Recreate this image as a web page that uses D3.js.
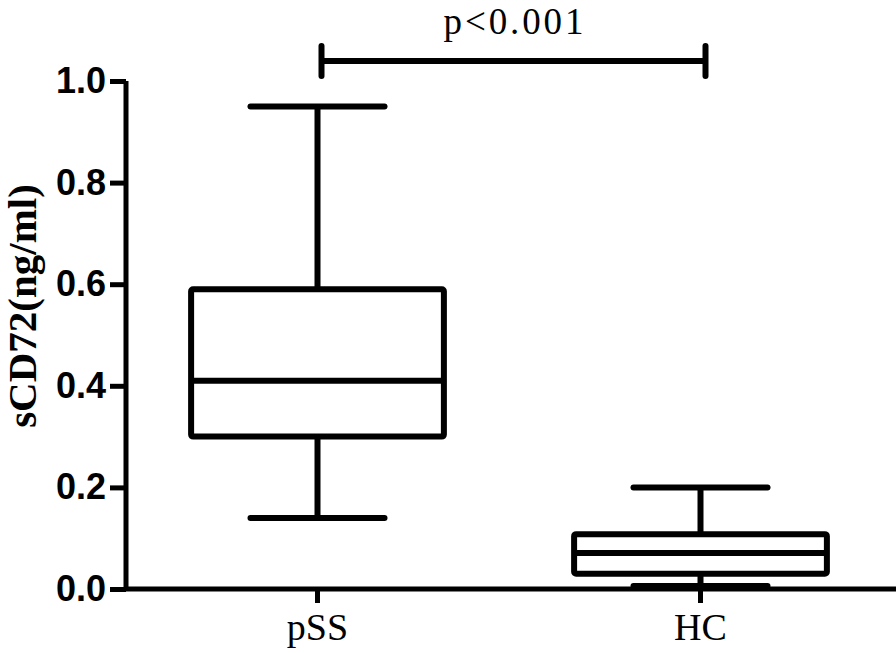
<!DOCTYPE html>
<html>
<head>
<meta charset="utf-8">
<script src="https://d3js.org/d3.v7.min.js"></script>
<style>
  html, body { margin: 0; padding: 0; background: #fff; }
  svg { display: block; }
</style>
</head>
<body>
<svg id="chart" width="896" height="653"></svg>
<script>
// groups and five-number summaries (ng/ml)
const groups = ["pSS", "HC"];
const whiskerLow = [0.14, 0.006];
const q1 = [0.30, 0.03];
const median = [0.41, 0.071];
const q3 = [0.59, 0.108];
const whiskerHigh = [0.95, 0.20];
const yTicks = [0.0, 0.2, 0.4, 0.6, 0.8, 1.0];
const pLabel = "p<0.001";

const svg = d3.select("#chart");
const plotLeft = 126, plotRight = 892, plotTop = 81, plotBottom = 589;

const x = d3.scaleBand().domain(groups).range([plotLeft, plotRight]).padding(0);
const y = d3.scaleLinear().domain([0, 1]).range([plotBottom, plotTop]);

const boxW = x.bandwidth() * 0.66;
const capW = x.bandwidth() * 0.35;
const lw = 6;

// y axis
const yAxis = svg.append("g")
  .attr("transform", `translate(${plotLeft},0)`)
  .call(d3.axisLeft(y).tickValues(yTicks).tickFormat(d3.format(".1f")).tickSize(16).tickPadding(4));
yAxis.select(".domain").attr("d", `M0,${plotTop}V${plotBottom}`).attr("stroke-width", 5);
yAxis.selectAll(".tick line").attr("stroke-width", 5);
yAxis.selectAll(".tick text")
  .style("font-family", "'Liberation Sans', Arial, sans-serif")
  .style("font-weight", "bold")
  .style("font-size", "36px")
  .attr("fill", "#000");

// x axis
const xAxis = svg.append("g")
  .attr("transform", `translate(0,${plotBottom})`)
  .call(d3.axisBottom(x).tickSize(14).tickPadding(10));
xAxis.select(".domain").attr("d", `M${plotLeft - 2},0H896`).attr("stroke-width", 5);
xAxis.selectAll(".tick line").attr("stroke-width", 5);
xAxis.selectAll(".tick text")
  .style("font-family", "'Liberation Serif', 'Times New Roman', serif")
  .style("font-size", "38px")
  .attr("fill", "#000");

// y title
svg.append("text")
  .attr("transform", `translate(36,306) rotate(-90)`)
  .attr("text-anchor", "middle")
  .style("font-family", "'Liberation Serif', 'Times New Roman', serif")
  .style("font-weight", "bold")
  .style("font-size", "41px")
  .text("sCD72(ng/ml)");

// boxes
const data = groups.map((g, i) => ({
  g, lo: whiskerLow[i], q1: q1[i], med: median[i], q3: q3[i], hi: whiskerHigh[i]
}));

const box = svg.append("g").selectAll("g").data(data).join("g")
  .attr("stroke", "#000").attr("stroke-width", lw).attr("fill", "none")
  .attr("stroke-linecap", "round");

box.each(function (d) {
  const g = d3.select(this);
  const cx = x(d.g) + x.bandwidth() / 2;
  // whiskers
  g.append("line").attr("x1", cx).attr("x2", cx).attr("y1", y(d.hi)).attr("y2", y(d.q3)).attr("stroke-linecap", "butt");
  g.append("line").attr("x1", cx).attr("x2", cx).attr("y1", y(d.q1)).attr("y2", y(d.lo)).attr("stroke-linecap", "butt");
  g.append("line").attr("x1", cx - capW / 2).attr("x2", cx + capW / 2).attr("y1", y(d.hi)).attr("y2", y(d.hi));
  g.append("line").attr("x1", cx - capW / 2).attr("x2", cx + capW / 2).attr("y1", y(d.lo)).attr("y2", y(d.lo));
  // box
  g.append("rect")
    .attr("x", cx - boxW / 2).attr("width", boxW)
    .attr("y", y(d.q3)).attr("height", y(d.q1) - y(d.q3))
    .attr("rx", 2).attr("stroke-linejoin", "round");
  g.append("line").attr("x1", cx - boxW / 2).attr("x2", cx + boxW / 2)
    .attr("y1", y(d.med)).attr("y2", y(d.med)).attr("stroke-linecap", "butt");
});

// significance bracket
const x1 = x("pSS") + x.bandwidth() / 2 + 4;
const x2 = x("HC") + x.bandwidth() / 2 + 5;
const by = 61;
const sig = svg.append("g").attr("stroke", "#000").attr("stroke-width", lw).attr("stroke-linecap", "round");
sig.append("line").attr("x1", x1).attr("x2", x2).attr("y1", by).attr("y2", by).attr("stroke-linecap", "butt");
sig.append("line").attr("x1", x1).attr("x2", x1).attr("y1", by - 15).attr("y2", by + 15);
sig.append("line").attr("x1", x2).attr("x2", x2).attr("y1", by - 15).attr("y2", by + 15);

svg.append("text")
  .attr("x", (x1 + x2) / 2)
  .attr("y", 34)
  .attr("text-anchor", "middle")
  .style("font-family", "'Liberation Serif', 'Times New Roman', serif")
  .style("font-size", "37px")
  .attr("textLength", 140)
  .text(pLabel);
</script>
</body>
</html>
